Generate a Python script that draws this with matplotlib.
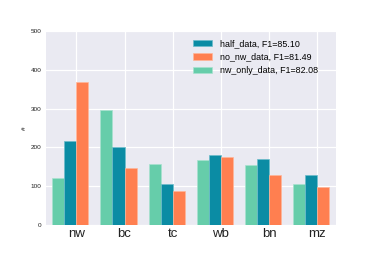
import matplotlib
matplotlib.use("Agg")
import matplotlib.pyplot as plt
import numpy as np

categories = ["nw", "bc", "tc", "wb", "bn", "mz"]
half_data = [217, 201, 105, 180, 170, 129]
no_nw_data = [368, 147, 87, 174, 130, 99]
nw_only_data = [120, 296, 158, 167, 155, 106]
labels = ["half_data, F1=85.10", "no_nw_data, F1=81.49", "nw_only_data, F1=82.08"]
yticks = [0, 100, 200, 300, 400, 500]

c_half = "#0b8ca4"
c_nonw = "#ff7f50"
c_nwonly = "#66cdaa"

plt.rcParams['font.family'] = ['Liberation Sans', 'DejaVu Sans']

fig = plt.figure(figsize=(3.73, 2.57), dpi=100)
ax = fig.add_axes([46/373, 1-225/257, 290/373, 194/257])
ax.set_facecolor("#eaeaf2")
for s in ax.spines.values():
    s.set_visible(False)
ax.grid(True, color="white", linewidth=0.9)
ax.set_axisbelow(True)

ind = np.arange(len(categories))
w = 0.25
b3 = ax.bar(ind, nw_only_data, w, color=c_nwonly, edgecolor="#a8e2cf", linewidth=0.5, label=labels[2])
b1 = ax.bar(ind + w, half_data, w, color=c_half, edgecolor="#6dbccb", linewidth=0.5, label=labels[0])
b2 = ax.bar(ind + 2*w, no_nw_data, w, color=c_nonw, edgecolor="#ffb69a", linewidth=0.5, label=labels[1])

ax.set_xlim(-0.255, 5.764)
ax.set_ylim(0, 500)
ax.set_xticks(ind + 1.5*w)
ax.set_xticklabels(categories, fontsize=9.5, color="#222222")
ax.set_yticks(yticks)
ax.set_yticklabels([str(v) for v in yticks], fontsize=4.6, color="#222222")
ax.tick_params(axis="both", length=0, pad=3)
ax.tick_params(axis="x", pad=2)
ax.set_ylabel("#", fontsize=4.6, labelpad=3)

ax.legend([b1, b2, b3], labels, loc="upper left", frameon=False, fontsize=6.4,
          bbox_to_anchor=((193-46)/290, 0.958), borderpad=0, borderaxespad=0,
          handlelength=2.1, labelspacing=0.5, handletextpad=0.9)

fig.savefig("out.png", dpi=100)
